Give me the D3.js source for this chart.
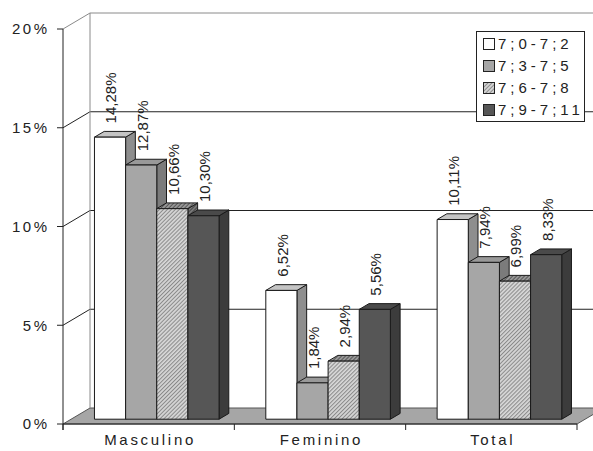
<!DOCTYPE html>
<html>
<head>
<meta charset="utf-8">
<script src="https://cdn.jsdelivr.net/npm/d3@7"></script>
<style>
  body { margin: 0; background: #fff; }
  svg { display: block; }
  text { font-family: "Liberation Sans", Arial, sans-serif; fill: #222; }
</style>
</head>
<body>
<svg id="chart" width="593" height="451"></svg>
<script>
// Age-band shares by sex (percent)
const categories = ["Masculino", "Feminino", "Total"];
const seriesNames = ["7;0-7;2", "7;3-7;5", "7;6-7;8", "7;9-7;11"];
const age70to72 = [14.28, 6.52, 10.11];
const age73to75 = [12.87, 1.84, 7.94];
const age76to78 = [10.66, 2.94, 6.99];
const age79to711 = [10.30, 5.56, 8.33];
const yTickValues = [0, 5, 10, 15, 20];
const yTickLabels = ["0%", "5%", "10%", "15%", "20%"];

const seriesValues = [age70to72, age73to75, age76to78, age79to711];

const W = 593, H = 451;
const svg = d3.select("#chart");

// Oblique projection used for the 3-D look
const depth = { dx: 27, dy: -16 };
const barZ0 = 0.30, barZ1 = 0.66;

const x = d3.scaleBand().domain(categories).range([63, 577]);
const xs = d3.scaleBand().domain(seriesNames).range([0, x.bandwidth()]).paddingOuter(0.75);
const y = d3.scaleLinear().domain([0, 20]).range([424, 29]);

const P = (px, v, z) => [px + z * depth.dx, y(v) + z * depth.dy];
const poly = pts => "M" + pts.map(p => p.join(",")).join("L") + "Z";

// Hatch patterns for the third series
const defs = svg.append("defs");
function hatch(id, base, ink) {
  const p = defs.append("pattern").attr("id", id).attr("patternUnits", "userSpaceOnUse")
    .attr("width", 2.8).attr("height", 2.8).attr("patternTransform", "rotate(45)");
  p.append("rect").attr("width", 2.8).attr("height", 2.8).attr("fill", base);
  p.append("line").attr("x1", 0.5).attr("y1", 0).attr("x2", 0.5).attr("y2", 2.8)
    .attr("stroke", ink).attr("stroke-width", 1);
}
hatch("hatchFront", "#d6d6d6", "#8a8a8a");
hatch("hatchTop", "#9a9a9a", "#555");
hatch("hatchSide", "#7a7a7a", "#444");

const styles = [
  { front: "#ffffff", top: "#c4c4c4", side: "#8e8e8e" },
  { front: "#a6a6a6", top: "#999999", side: "#7b7b7b" },
  { front: "url(#hatchFront)", top: "url(#hatchTop)", side: "url(#hatchSide)" },
  { front: "#565656", top: "#4a4a4a", side: "#3c3c3c" }
];

// Walls and floor
const [xL, xR] = x.range();
const g = svg.append("g");

// floor
g.append("path")
  .attr("d", poly([P(xL, 0, 0), P(xL, 0, 1), P(xR, 0, 1), P(xR, 0, 0)]))
  .attr("fill", "#a6a6a6").attr("stroke", "#555").attr("stroke-width", 1);

// back wall gridlines and side-wall diagonals
yTickValues.slice(1).forEach(v => {
  const top = v === 20;
  const col = top ? "#8a8a8a" : "#222";
  const b = P(xL, v, 1);
  g.append("line").attr("x1", b[0]).attr("y1", b[1]).attr("x2", W + 40).attr("y2", b[1])
    .attr("stroke", col).attr("stroke-width", 1);
  const f = P(xL, v, 0);
  g.append("line").attr("x1", f[0]).attr("y1", f[1]).attr("x2", b[0]).attr("y2", b[1])
    .attr("stroke", col).attr("stroke-width", 1);
});
// back wall left edge
{
  const a = P(xL, 0, 1), b = P(xL, 20, 1);
  g.append("line").attr("x1", a[0]).attr("y1", a[1]).attr("x2", b[0]).attr("y2", b[1])
    .attr("stroke", "#8a8a8a").attr("stroke-width", 1);
}

// front value axis
g.append("line").attr("x1", xL).attr("y1", y(20)).attr("x2", xL).attr("y2", y(0) + 6)
  .attr("stroke", "#222");
yTickValues.forEach((v, i) => {
  g.append("line").attr("x1", xL - 6).attr("y1", y(v)).attr("x2", xL).attr("y2", y(v))
    .attr("stroke", "#222");
  g.append("text").attr("x", 49.5).attr("y", y(v)).attr("dy", "0.36em")
    .attr("text-anchor", "end").attr("font-size", 15).attr("letter-spacing", 2.5)
    .text(yTickLabels[i]);
});

// category axis line, ticks and labels
g.append("line").attr("x1", xL).attr("y1", y(0)).attr("x2", xR).attr("y2", y(0)).attr("stroke", "#222");
[xL, ...categories.map(c => x(c) + x.bandwidth())].forEach(px => {
  g.append("line").attr("x1", px).attr("y1", y(0)).attr("x2", px).attr("y2", y(0) + 6)
    .attr("stroke", "#222");
});
categories.forEach(c => {
  g.append("text").attr("x", x(c) + x.bandwidth() / 2).attr("dx", 1.4).attr("y", 445)
    .attr("text-anchor", "middle").attr("font-size", 15).attr("letter-spacing", 2.7)
    .text(c);
});

// Bars
const bars = svg.append("g").attr("stroke", "#1a1a1a").attr("stroke-width", 1)
  .attr("stroke-linejoin", "round");
const fmt = v => d3.format(".2f")(v).replace(".", ",") + "%";
const labels = [];
categories.forEach((c, ci) => {
  seriesNames.forEach((s, si) => {
    const v = seriesValues[si][ci];
    const xf = x(c) + xs(s), w = xs.bandwidth();
    const st = styles[si];
    bars.append("path").attr("fill", st.side)
      .attr("d", poly([P(xf + w, 0, barZ0), P(xf + w, v, barZ0), P(xf + w, v, barZ1), P(xf + w, 0, barZ1)]));
    bars.append("path").attr("fill", st.top)
      .attr("d", poly([P(xf, v, barZ0), P(xf + w, v, barZ0), P(xf + w, v, barZ1), P(xf, v, barZ1)]));
    bars.append("path").attr("fill", st.front)
      .attr("d", poly([P(xf, 0, barZ0), P(xf + w, 0, barZ0), P(xf + w, v, barZ0), P(xf, v, barZ0)]));
    const back = P(xf, v, barZ1);
    labels.push({ x: xf + w / 2 + 1 + barZ0 * depth.dx, y: back[1] - 8, t: fmt(v) });
  });
});

// Value labels, rotated
svg.append("g").selectAll("text").data(labels).join("text")
  .attr("transform", d => `translate(${d.x},${d.y}) rotate(-90)`)
  .attr("dy", "0.36em").attr("font-size", 15).text(d => d.t);

// Legend
const lg = svg.append("g");
lg.append("rect").attr("x", 476.5).attr("y", 31.5).attr("width", 108).attr("height", 90)
  .attr("fill", "#fff").attr("stroke", "#222");
seriesNames.forEach((s, i) => {
  const cy = 44 + i * 22;
  lg.append("rect").attr("x", 483.5).attr("y", cy - 5.5).attr("width", 11).attr("height", 11)
    .attr("fill", styles[i].front).attr("stroke", "#222");
  lg.append("text").attr("x", 498).attr("y", cy).attr("dy", "0.36em")
    .attr("font-size", 15).attr("letter-spacing", 4).text(s);
});
</script>
</body>
</html>
